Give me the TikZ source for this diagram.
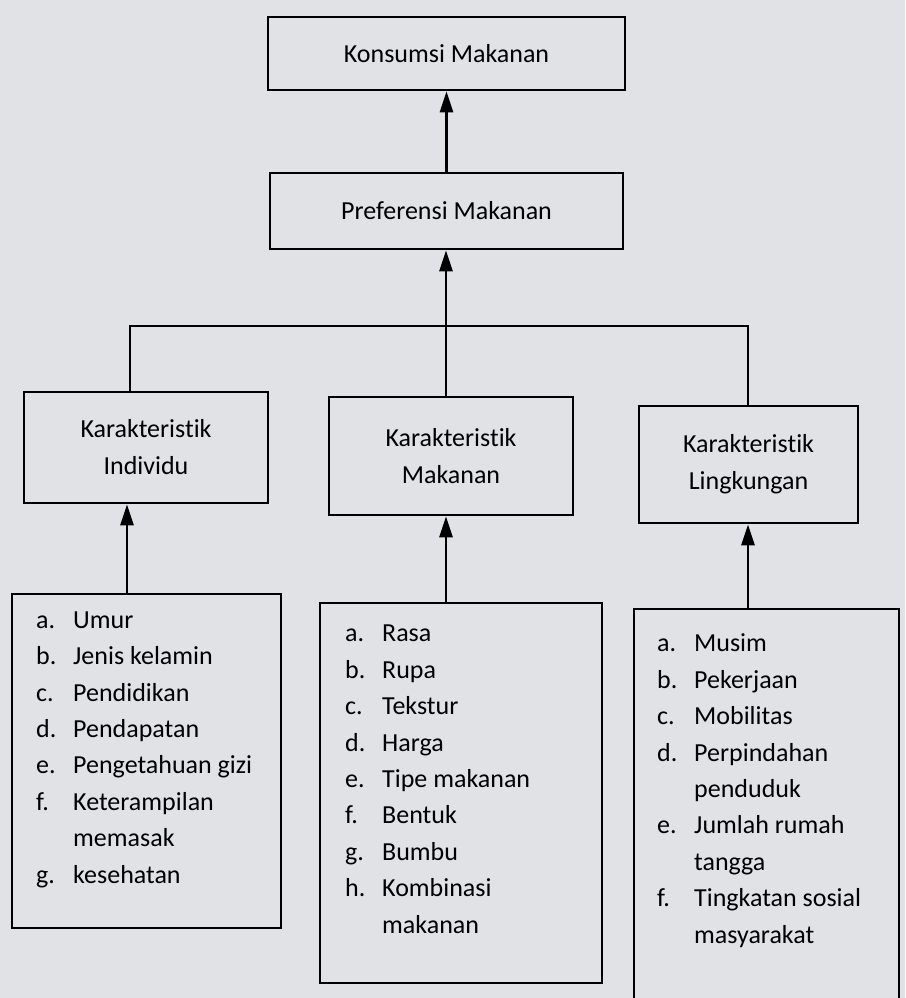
\documentclass[tikz,border=0pt]{standalone}
\usepackage{fontspec}
\setmainfont{Carlito}[Ligatures=NoCommon]
\usetikzlibrary{arrows.meta}
\definecolor{paper}{RGB}{224,226,230}
\tikzset{
  box/.style={draw=black, line width=2.8pt, rectangle, inner sep=0pt, align=center,
    font=\fontsize{26}{37}\selectfont},
  conn/.style={draw=black, line width=2.8pt},
  arr/.style={conn, -{Triangle[length=21pt,width=13pt]}},
  listtext/.style={anchor=base west, inner sep=0pt, align=left,
    font=\fontsize{26}{36.4}\selectfont},
}
\newcommand{\itm}[2]{\makebox[37pt][l]{#1}#2}
\begin{document}
\begin{tikzpicture}[x=1pt,y=-1pt]
\fill[paper] (0,0) rectangle (905,998);
\clip (0,0) rectangle (905,998);
\useasboundingbox (0,0) rectangle (905,998);
% top boxes
\node[box, minimum width=357pt, minimum height=73pt] (kons) at (446.5,53.5) {Konsumsi Makanan};
\node[box, minimum width=353pt, minimum height=76pt] (pref) at (446.5,211) {Preferensi Makanan};
% middle boxes
\node[box, minimum width=244pt, minimum height=111pt] (indiv) at (146,447.5) {Karakteristik\\Individu};
\node[box, minimum width=244pt, minimum height=118pt] (mak) at (451,456) {Karakteristik\\Makanan};
\node[box, minimum width=219pt, minimum height=117pt] (ling) at (748.5,464.5) {Karakteristik\\Lingkungan};
% list boxes
\node[box, minimum width=269pt, minimum height=334pt] (list1) at (146.5,761) {};
\node[box, minimum width=282pt, minimum height=380pt] (list2) at (461,793) {};
\node[box, minimum width=265pt, minimum height=410pt] (list3) at (766.5,814) {};
% coordinates
\coordinate (barL) at (130,326);
\coordinate (barR) at (748,326);
\coordinate (xA) at (127,0);
\coordinate (xB) at (446,0);
\coordinate (xC) at (748,0);
% connectors
\draw[arr] (pref.north) -- (kons.south);
\draw[arr] (mak.north -| xB) -- (pref.south -| xB);
\draw[conn] (indiv.north -| barL) -- (barL) -- (barR) -- (ling.north -| barR);
\draw[arr] (list1.north -| xA) -- (indiv.south -| xA);
\draw[arr] (list2.north -| xB) -- (mak.south -| xB);
\draw[arr] (list3.north -| xC) -- (ling.south -| xC);
% list texts (anchored at the baseline of the last line)
\node[listtext] (t1) at (36,883) {%
\itm{a.}{Umur}\\ \itm{b.}{Jenis kelamin}\\ \itm{c.}{Pendidikan}\\ \itm{d.}{Pendapatan}\\
\itm{e.}{Pengetahuan gizi}\\ \itm{f.}{Keterampilan}\\ \itm{}{memasak}\\ \itm{g.}{kesehatan}};
\node[listtext] (t2) at (345,933) {%
\itm{a.}{Rasa}\\ \itm{b.}{Rupa}\\ \itm{c.}{Tekstur}\\ \itm{d.}{Harga}\\
\itm{e.}{Tipe makanan}\\ \itm{f.}{Bentuk}\\ \itm{g.}{Bumbu}\\ \itm{h.}{Kombinasi}\\ \itm{}{makanan}};
\node[listtext] (t3) at (657,943) {%
\itm{a.}{Musim}\\ \itm{b.}{Pekerjaan}\\ \itm{c.}{Mobilitas}\\ \itm{d.}{Perpindahan}\\
\itm{}{penduduk}\\ \itm{e.}{Jumlah rumah}\\ \itm{}{tangga}\\ \itm{f.}{Tingkatan sosial}\\ \itm{}{masyarakat}};
\end{tikzpicture}
\end{document}
